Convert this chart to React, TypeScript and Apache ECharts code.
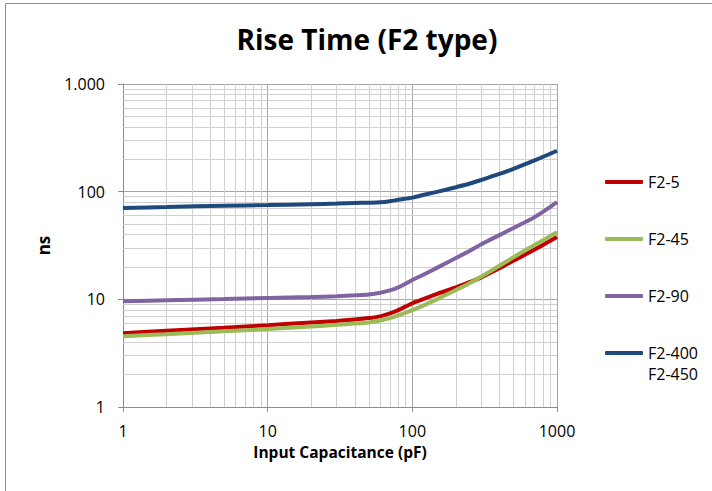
import React, { useEffect, useRef } from "react";
import * as echarts from "echarts";

const capacitance = [1, 2, 5, 10, 20, 30, 40, 50, 60, 70, 80, 100, 120, 150, 200, 250, 300, 400, 500, 700, 1000];
const f2_5 = [4.85, 5.1, 5.45, 5.75, 6.1, 6.3, 6.5, 6.7, 6.95, 7.4, 7.95, 9.2, 10.1, 11.3, 12.9, 14.5, 16.0, 19.4, 22.8, 29, 38];
const f2_45 = [4.55, 4.75, 5.05, 5.3, 5.6, 5.8, 5.95, 6.1, 6.35, 6.7, 7.1, 7.95, 8.8, 10.1, 12.2, 14.2, 16.3, 20.5, 24.6, 32, 42];
const f2_90 = [9.6, 9.8, 10.05, 10.3, 10.5, 10.7, 10.9, 11.1, 11.5, 12.1, 12.9, 15.1, 17, 19.8, 24.2, 28.3, 32.5, 39.5, 46, 58, 80];
const f2_400 = [70.5, 72, 74, 75, 76.5, 77.5, 78.5, 79, 79.7, 81.5, 84, 88, 93.5, 100, 110, 119, 128.5, 146, 163, 195, 240];

const seriesNames = ["F2-5", "F2-45", "F2-90", "F2-400"];
const extraLegendLine = "F2-450";
const seriesColors = ["#C00000", "#9BBB59", "#8064A2", "#1F497D"];
const minorValues = [2, 3, 4, 5, 6, 7, 8, 9, 20, 30, 40, 50, 60, 70, 80, 90, 200, 300, 400, 500, 600, 700, 800, 900];

const FONT = "'Open Sans', sans-serif";

export default function App() {
  const ref = useRef<HTMLDivElement>(null);
  useEffect(() => {
    if (!ref.current) return;
    const chart = echarts.init(ref.current, undefined, { renderer: "svg" });
    const allData = [f2_5, f2_45, f2_90, f2_400];
    const lines = allData.map((vals, i) => ({
      name: seriesNames[i],
      type: "line",
      smooth: 0.3,
      symbol: "none",
      z: 3,
      data: vals.map((v, j) => [capacitance[j], v]),
      lineStyle: { color: seriesColors[i], width: 4 },
      itemStyle: { color: seriesColors[i] },
    }));
    const gridSeries = {
      name: "minor",
      type: "line",
      symbol: "none",
      z: 1,
      silent: true,
      data: [[1, 1]],
      lineStyle: { opacity: 0 },
      markLine: {
        z: 1,
        silent: true,
        symbol: ["none", "none"],
        label: { show: false },
        animation: false,
        lineStyle: { color: "#d0d0d0", type: "solid", width: 1 },
        emphasis: { disabled: true },
        data: [
          ...minorValues.map((v) => ({ xAxis: v })),
          ...minorValues.map((v) => ({ yAxis: v })),
        ],
      },
    };
    chart.setOption({
      animation: false,
      backgroundColor: "#ffffff",
      title: {
        text: "Rise Time (F2 type)",
        left: 362,
        top: 20,
        textAlign: "center",
        textStyle: { fontFamily: FONT, fontWeight: "bold", fontSize: 28, color: "#000" },
      },
      grid: { left: 123, right: 155, top: 84, bottom: 84 },
      legend: {
        data: seriesNames,
        orient: "vertical",
        left: 600,
        top: 169,
        icon: "roundRect",
        itemWidth: 38,
        itemHeight: 4,
        itemGap: 41,
        textStyle: { fontFamily: FONT, fontSize: 16, color: "#000" },
      },
      xAxis: {
        type: "log",
        logBase: 10,
        min: 1,
        max: 1000,
        name: "Input Capacitance (pF)",
        nameLocation: "middle",
        nameGap: 27,
        nameTextStyle: { fontFamily: FONT, fontWeight: "bold", fontSize: 15.5, color: "#000" },
        axisLine: { lineStyle: { color: "#8c8c8c", width: 1 } },
        axisTick: { show: true, length: 5, lineStyle: { color: "#8c8c8c" } },
        axisLabel: {
          fontFamily: FONT,
          fontSize: 16,
          color: "#000",
          margin: 16,
          formatter: (v: number) => String(v),
        },
        splitLine: { show: true, lineStyle: { color: "#a6a6a6", width: 1 } },
      },
      yAxis: {
        type: "log",
        logBase: 10,
        min: 1,
        max: 1000,
        name: "ns",
        nameLocation: "middle",
        nameGap: 71,
        nameRotate: 90,
        nameTextStyle: { fontFamily: FONT, fontWeight: "bold", fontSize: 17, color: "#000" },
        axisLine: { show: true, lineStyle: { color: "#8c8c8c", width: 1 } },
        axisTick: { show: true, length: 5, lineStyle: { color: "#8c8c8c" } },
        axisLabel: {
          fontFamily: FONT,
          fontSize: 16,
          color: "#000",
          margin: 18,
          formatter: (v: number) => (v === 1000 ? "1.000" : String(v)),
        },
        splitLine: { show: true, lineStyle: { color: "#a6a6a6", width: 1 } },
      },
      graphic: [
        {
          type: "rect",
          z: -10,
          shape: { x: 5.5, y: 3.5, width: 900, height: 700 },
          style: { fill: "none", stroke: "#8c8c8c", lineWidth: 1 },
          silent: true,
        },
        {
          type: "text",
          left: 648,
          top: 366,
          style: { text: extraLegendLine, fontFamily: FONT, fontSize: 16, fill: "#000" },
        },
      ],
      series: [gridSeries, ...lines],
    });
    return () => chart.dispose();
  }, []);
  return (
    <div
      ref={ref}
      style={{ position: "fixed", left: 0, top: 0, width: 712, height: 491 }}
    />
  );
}
